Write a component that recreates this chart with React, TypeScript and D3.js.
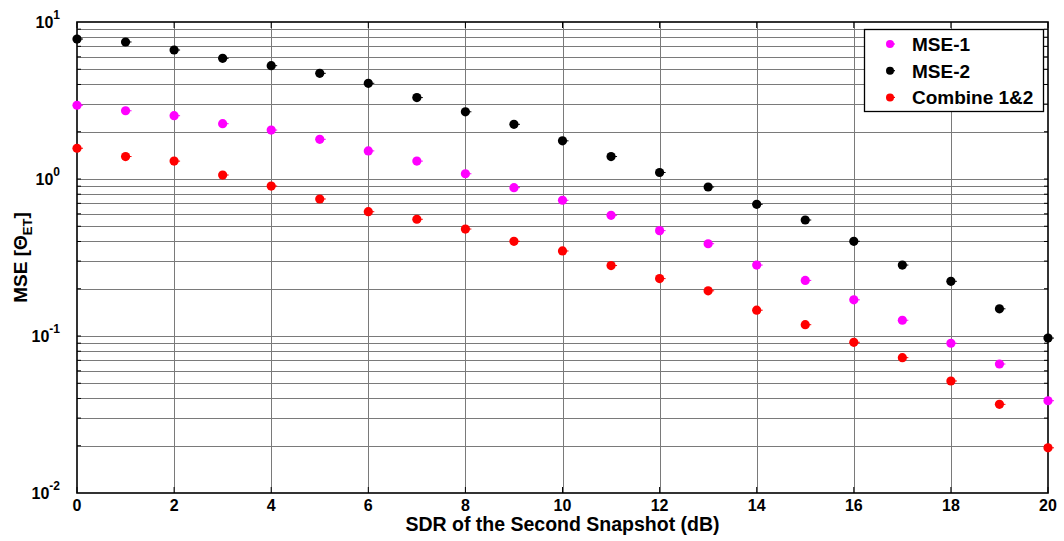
import React from "react";
import * as d3 from "d3";

// SDR of the second snapshot (dB)
const sdr = d3.range(0, 21);

const mse1 = [2.95, 2.72, 2.53, 2.25, 2.05, 1.79, 1.51, 1.3, 1.08, 0.881, 0.732, 0.587, 0.469, 0.387, 0.283, 0.226, 0.17, 0.126, 0.0899, 0.0663, 0.0387];
const mse2 = [7.79, 7.46, 6.63, 5.87, 5.27, 4.71, 4.07, 3.3, 2.68, 2.23, 1.75, 1.39, 1.1, 0.889, 0.69, 0.548, 0.401, 0.283, 0.223, 0.149, 0.097];
const combined = [1.57, 1.39, 1.3, 1.06, 0.902, 0.746, 0.619, 0.554, 0.48, 0.401, 0.348, 0.281, 0.232, 0.194, 0.146, 0.118, 0.0912, 0.0728, 0.0517, 0.0367, 0.0194];

const xTicks = [0, 2, 4, 6, 8, 10, 12, 14, 16, 18, 20];
const yExponents = [-2, -1, 0, 1];

const seriesList = [
  { name: "MSE-1", values: mse1, color: "#ff00ff" },
  { name: "MSE-2", values: mse2, color: "#000000" },
  { name: "Combine 1&2", values: combined, color: "#ff0000" },
];

const W = 1064;
const H = 541;
const margin = { left: 77, right: 16, top: 22, bottom: 48 };
const FONT = "Arial, 'Liberation Sans', sans-serif";

export default function App() {
  const x = d3.scaleLinear().domain([0, 20]).range([margin.left, W - margin.right]);
  const y = d3.scaleLog().domain([0.01, 10]).range([H - margin.bottom, margin.top]);
  const [x0, x1] = x.range();
  const [yb, yt] = y.range();

  // minor log ticks: 2..9 within each decade
  const minor: number[] = [];
  for (let e = -2; e < 1; e++) for (let m = 2; m <= 9; m++) minor.push(m * Math.pow(10, e));
  const majorInner = [0.1, 1];

  const gridColor = "#7a7a7a";

  return (
    <svg width={W} height={H} style={{ position: "absolute", left: 0, top: 0, background: "#fff" }}>
      <rect x={0} y={0} width={W} height={H} fill="#fff" />
      {/* horizontal grid */}
      {minor.concat(majorInner).map((v, i) => (
        <line key={"hg" + i} x1={x0} x2={x1} y1={Math.round(y(v)) + 0.5} y2={Math.round(y(v)) + 0.5} stroke={gridColor} strokeWidth={1} />
      ))}
      {/* vertical grid */}
      {xTicks.slice(1, -1).map((t) => (
        <line key={"vg" + t} x1={Math.round(x(t)) + 0.5} x2={Math.round(x(t)) + 0.5} y1={yt} y2={yb} stroke={gridColor} strokeWidth={1} />
      ))}
      {/* axis ticks (inward) */}
      {minor.concat(majorInner).map((v, i) => (
        <g key={"yt" + i}>
          <line x1={x0} x2={x0 + 4} y1={y(v)} y2={y(v)} stroke="#000" />
          <line x1={x1} x2={x1 - 4} y1={y(v)} y2={y(v)} stroke="#000" />
        </g>
      ))}
      {xTicks.map((t) => (
        <g key={"xt" + t}>
          <line x1={x(t)} x2={x(t)} y1={yb} y2={yb - 6} stroke="#000" />
          <line x1={x(t)} x2={x(t)} y1={yt} y2={yt + 6} stroke="#000" />
        </g>
      ))}
      {/* axes box */}
      <rect x={x0} y={yt} width={x1 - x0} height={yb - yt} fill="none" stroke="#000" strokeWidth={1.6} />

      {/* markers */}
      {seriesList.map((s) =>
        s.values.map((v, i) => (
          <g key={s.name + i}>
            <line x1={x(sdr[i])} x2={x(sdr[i]) + 6} y1={y(v)} y2={y(v)} stroke={s.color} strokeWidth={1} />
            <circle cx={x(sdr[i])} cy={y(v)} r={4.6} fill={s.color} />
          </g>
        ))
      )}

      {/* x tick labels */}
      {xTicks.map((t) => (
        <text key={"xl" + t} x={x(t)} y={yb + 18} textAnchor="middle" fontFamily={FONT} fontWeight="bold" fontSize={16} fill="#000">
          {t}
        </text>
      ))}
      {/* y tick labels */}
      {yExponents.map((e) => (
        <text key={"yl" + e} x={x0 - 17} y={y(Math.pow(10, e)) + 6} textAnchor="end" fontFamily={FONT} fontWeight="bold" fontSize={16} fill="#000">
          10
          <tspan dy={-9} fontSize={12}>{e}</tspan>
        </text>
      ))}
      <text x={(x0 + x1) / 2} y={yb + 38} textAnchor="middle" fontFamily={FONT} fontWeight="bold" fontSize={19.5} fill="#000">
        SDR of the Second Snapshot (dB)
      </text>
      <text transform={`translate(27,${(yt + yb) / 2}) rotate(-90)`} textAnchor="middle" fontFamily={FONT} fontWeight="bold" fontSize={19} fill="#000">
        MSE [Θ
        <tspan fontSize={13} dy={5}>ET</tspan>
        <tspan dy={-5}>]</tspan>
      </text>

      {/* legend */}
      <g>
        <rect x={864.5} y={29.5} width={179} height={82} fill="#fff" stroke="#000" strokeWidth={1.3} />
        {seriesList.map((s, i) => (
          <g key={"lg" + s.name}>
            <line x1={890} x2={895} y1={44 + i * 26.7} y2={44 + i * 26.7} stroke={s.color} strokeWidth={1.2} />
            <circle cx={890} cy={44 + i * 26.7} r={4} fill={s.color} />
            <text x={912} y={44 + i * 26.7 + 7} fontFamily={FONT} fontWeight="bold" fontSize={19} fill="#000">
              {s.name}
            </text>
          </g>
        ))}
      </g>
    </svg>
  );
}
